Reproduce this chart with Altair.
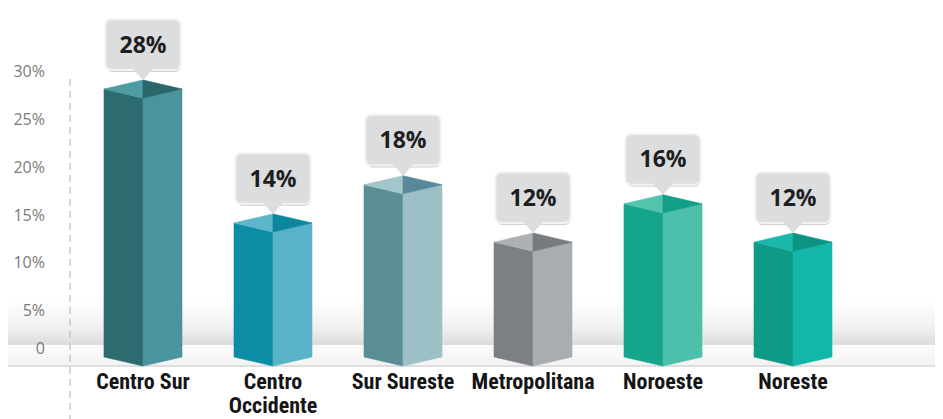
import altair as alt
import pandas as pd

# ---- data ----
regions = ["Centro Sur", "Centro|Occidente", "Sur Sureste", "Metropolitana", "Noroeste", "Noreste"]
values = [28, 14, 18, 12, 16, 12]
tick_values = [0, 5, 10, 15, 20, 25, 30]
tick_labels = ["0", "5%", "10%", "15%", "20%", "25%", "30%"]

# ---- styles ----
left_colors = ["#2d6b70", "#0a8da5", "#5a8e97", "#7c8084", "#14a58b", "#0f9a88"]
right_colors = ["#4a959b", "#58b3c8", "#9dc0c6", "#a9adb0", "#4cc0aa", "#13b6a9"]
cap_left_colors = ["#4d9ca2", "#5db6ca", "#a3c6cb", "#aeb1b4", "#52c4ae", "#1ab8ab"]
cap_right_colors = ["#2b666b", "#0b869c", "#57899a", "#777b7f", "#129e87", "#0d9383"]

K = 0.95      # corner rise (in % units)
HW = 0.30     # half bar width (in category units)
BOX_GAP = 1.05
BOX_H = 5.3
BOX_HW = 0.29
PTR_HW = 0.07

Y_DOMAIN = [-4.7, 37.42]
X_DOMAIN = [-0.5615, 5.823]

rows = []
for i, v in enumerate(values):
    c = i
    rows += [
        dict(shape=f"{i}a", x=c - HW, lo=K, hi=v + K, fill=left_colors[i]),
        dict(shape=f"{i}a", x=c, lo=0, hi=v, fill=left_colors[i]),
        dict(shape=f"{i}b", x=c, lo=0, hi=v, fill=right_colors[i]),
        dict(shape=f"{i}b", x=c + HW, lo=K, hi=v + K, fill=right_colors[i]),
        dict(shape=f"{i}c", x=c - HW, lo=v + K, hi=v + K, fill=cap_left_colors[i]),
        dict(shape=f"{i}c", x=c, lo=v, hi=v + 2 * K, fill=cap_left_colors[i]),
        dict(shape=f"{i}d", x=c, lo=v, hi=v + 2 * K, fill=cap_right_colors[i]),
        dict(shape=f"{i}d", x=c + HW, lo=v + K, hi=v + K, fill=cap_right_colors[i]),
    ]
faces = pd.DataFrame(rows)

box = pd.DataFrame({
    "c": list(range(len(values))),
    "label": [f"{v}%" for v in values],
    "bb": [v + 2 * K + BOX_GAP for v in values],
})
box["bt"] = box["bb"] + BOX_H
box["mid"] = box["bb"] + BOX_H / 2
box["x1"] = box["c"] - BOX_HW
box["x2"] = box["c"] + BOX_HW

prow = []
for i, v in enumerate(values):
    bb = v + 2 * K + BOX_GAP
    prow += [
        dict(p=i, x=i - PTR_HW, lo=bb, hi=bb + 0.35),
        dict(p=i, x=i, lo=v + 2 * K, hi=bb + 0.35),
        dict(p=i, x=i + PTR_HW, lo=bb, hi=bb + 0.35),
    ]
ptr = pd.DataFrame(prow)

cats = pd.DataFrame({"c": list(range(len(regions))), "region": regions})
ticks = pd.DataFrame({"v": tick_values, "t": tick_labels})

xs = alt.Scale(domain=X_DOMAIN, nice=False, zero=False)
ys = alt.Scale(domain=Y_DOMAIN, nice=False, zero=False)

# floor shading
floor = pd.DataFrame({"x1": [-1.1], "x2": [6.16], "a": [7.0], "b": [2.2], "c0": [0.0]})
floor_grad = alt.Chart(floor).mark_rect(
    color=alt.LinearGradient(gradient="linear", x1=0, x2=0, y1=0, y2=1,
                             stops=[alt.GradientStop(color="#ffffff", offset=0),
                                    alt.GradientStop(color="#f1f1f1", offset=0.6),
                                    alt.GradientStop(color="#dcdcdc", offset=1)])
).encode(
    x=alt.X("x1:Q", scale=xs, axis=None), x2="x2:Q",
    y=alt.Y("a:Q", scale=ys, axis=alt.Axis(values=tick_values[1:], labels=False, title=None,
                                           domain=False, grid=True, gridDash=[7, 4],
                                           gridColor="#d2d2d2", gridWidth=1.3,
                                           ticks=True, tickSize=30, tickColor="#c4c4c4",
                                           tickWidth=1.5)),
    y2="b:Q",
)
floor_band = alt.Chart(floor).mark_rect(
    color=alt.LinearGradient(gradient="linear", x1=0, x2=0, y1=0, y2=1,
                             stops=[alt.GradientStop(color="#fbfbfb", offset=0),
                                    alt.GradientStop(color="#f3f3f3", offset=1)])
).encode(
    x=alt.X("x1:Q", scale=xs, axis=None), x2="x2:Q",
    y=alt.Y("b:Q", scale=ys, axis=None), y2="c0:Q",
)
floor_line = alt.Chart(floor).mark_rule(color="#dedede", strokeWidth=2).encode(
    x=alt.X("x1:Q", scale=xs, axis=None), x2="x2:Q",
    y=alt.Y("c0:Q", scale=ys, axis=None),
)

vaxis = alt.Chart(floor).mark_rule(color="#c4c4c4", strokeDash=[7, 5], strokeWidth=1.4).encode(
    x=alt.value(0),
    y=alt.Y("t30:Q", scale=ys, axis=None), y2="bot:Q",
).transform_calculate(t30="30", bot="-5.6")

tick_text = alt.Chart(ticks).transform_filter("datum.v > 0").mark_text(
    align="right", baseline="middle", dy=-7, font="Open Sans", fontSize=16, color="#7a7a7a"
).encode(x=alt.value(-25), y=alt.Y("v:Q", scale=ys, axis=None), text="t:N")
zero_text = alt.Chart(ticks).transform_filter("datum.v == 0").mark_text(
    align="right", baseline="middle", dy=-17, font="Open Sans", fontSize=16, color="#7a7a7a"
).encode(x=alt.value(-25), y=alt.Y("v:Q", scale=ys, axis=None), text="t:N")

bars = alt.Chart(faces).mark_area(strokeWidth=0.6).encode(
    x=alt.X("x:Q", scale=xs, axis=None),
    y=alt.Y("lo:Q", scale=ys, axis=None, stack=None),
    y2="hi:Q",
    color=alt.Color("fill:N", scale=None),
    stroke=alt.Stroke("fill:N", scale=None),
    detail="shape:N",
)

shadow = alt.Chart(box).mark_rect(cornerRadius=6, color="#9a9a9a", opacity=0.45, xOffset=1.5, yOffset=2).encode(
    x=alt.X("x1:Q", scale=xs, axis=None), x2="x2:Q",
    y=alt.Y("bb:Q", scale=ys, axis=None), y2="bt:Q",
)
boxes = alt.Chart(box).mark_rect(cornerRadius=6, fill="#dcdddf", stroke="#f3f3f3", strokeWidth=2).encode(
    x=alt.X("x1:Q", scale=xs, axis=None), x2="x2:Q",
    y=alt.Y("bb:Q", scale=ys, axis=None), y2="bt:Q",
)
pointers = alt.Chart(ptr).mark_area(color="#dcdddf").encode(
    x=alt.X("x:Q", scale=xs, axis=None),
    y=alt.Y("lo:Q", scale=ys, axis=None, stack=None),
    y2="hi:Q",
    detail="p:N",
)
box_text = alt.Chart(box).mark_text(
    font="Open Sans", fontWeight="bold", fontSize=23, color="#1e1e1e", baseline="middle", dy=1
).encode(
    x=alt.X("c:Q", scale=xs, axis=None),
    y=alt.Y("mid:Q", scale=ys, axis=None),
    text="label:N",
)

cat_text = alt.Chart(cats).transform_calculate(
    lines="split(datum.region, '|')", ytop="-0.6"
).mark_text(
    font="Roboto Condensed, Roboto, sans-serif",
    fontWeight="bold", fontSize=22, lineHeight=24,
    color="#151515", baseline="top", align="center"
).encode(
    x=alt.X("c:Q", scale=xs, axis=None),
    y=alt.Y("ytop:Q", scale=ys, axis=None),
    text="lines:N",
)

chart = alt.layer(
    floor_grad, floor_band, floor_line, vaxis, tick_text, zero_text,
    bars, shadow, boxes, pointers, box_text, cat_text
).properties(
    width=830, height=403,
    padding={"left": 62, "top": 0, "right": 35, "bottom": 8},
    autosize=alt.AutoSizeParams(type="none"),
    background="white",
).configure_view(stroke=None)

chart.save("out.html", embed_options={"renderer": "svg", "actions": False})
